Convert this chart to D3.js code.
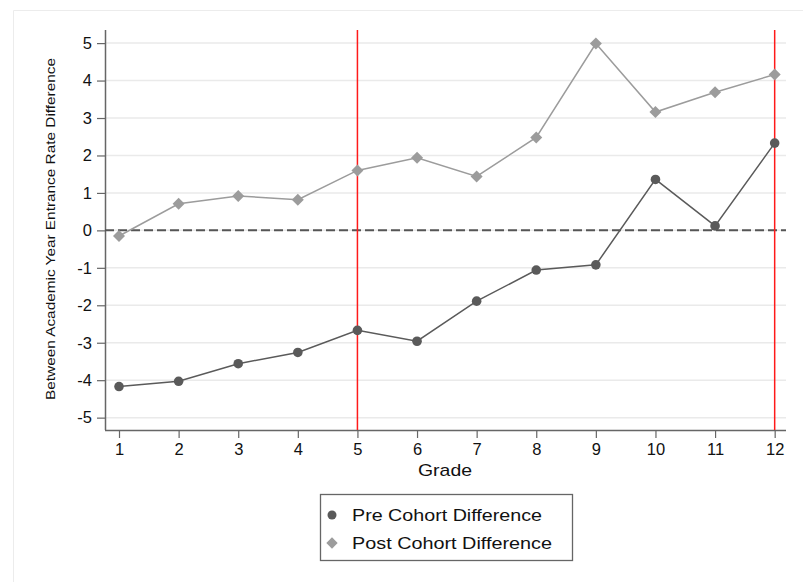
<!DOCTYPE html>
<html>
<head>
<meta charset="utf-8">
<script src="https://cdn.jsdelivr.net/npm/d3@7"></script>
<style>
  html, body { margin: 0; padding: 0; background: #fff; }
  svg { display: block; font-family: "Liberation Sans", Arial, Helvetica, sans-serif; }
</style>
</head>
<body>
<svg id="chart" width="803" height="582"></svg>
<script>
// Grades on the horizontal axis
const grades = [1, 2, 3, 4, 5, 6, 7, 8, 9, 10, 11, 12];
// Between-academic-year entrance rate differences
const preCohort  = [-4.17, -4.03, -3.56, -3.26, -2.67, -2.96, -1.89, -1.06, -0.92, 1.36, 0.12, 2.33];
const postCohort = [-0.15, 0.71, 0.92, 0.82, 1.60, 1.94, 1.44, 2.48, 4.99, 3.16, 3.69, 4.16];
// Axis ticks and reference lines
const yTicks = [-5, -4, -3, -2, -1, 0, 1, 2, 3, 4, 5];
const xTicks = grades;
const refGrades = [5, 12];
const seriesNames = ["Pre Cohort Difference", "Post Cohort Difference"];

const svg = d3.select("#chart");
const W = 803, H = 582;
const plot = { left: 105, right: 786, top: 30, bottom: 430 };

// Outer frame (left and top edges visible)
svg.append("path")
  .attr("d", `M13.5,${H} V10.5 H${W}`)
  .attr("fill", "none").attr("stroke", "#ececec").attr("stroke-width", 1);

const x = d3.scaleLinear().domain([0.765, 12.19]).range([plot.left, plot.right]);
const y = d3.scaleLinear().domain([-5.33, 5.35]).range([plot.bottom, plot.top]);

// Horizontal gridlines
svg.append("g").selectAll("line").data(yTicks).join("line")
  .attr("x1", plot.left).attr("x2", plot.right)
  .attr("y1", d => y(d)).attr("y2", d => y(d))
  .attr("stroke", "#eaeaea").attr("stroke-width", 1.5);

// Y axis
const yAxis = svg.append("g").attr("transform", `translate(${plot.left},0)`)
  .call(d3.axisLeft(y).tickValues(yTicks).tickSize(8).tickPadding(5).tickFormat(d3.format("d")));
yAxis.select(".domain").attr("d", `M0.5,${plot.top}V${plot.bottom}`).attr("stroke", "#666").attr("stroke-width", 1.5);
yAxis.selectAll(".tick line").attr("stroke", "#666").attr("stroke-width", 1.2);
yAxis.selectAll(".tick text").attr("font-size", 16.5).attr("fill", "#111")
  .text(d => d < 0 ? "-" + Math.abs(d) : d);

// X axis
const xAxis = svg.append("g").attr("transform", `translate(0,${plot.bottom})`)
  .call(d3.axisBottom(x).tickValues(xTicks).tickSize(8).tickPadding(5).tickFormat(d3.format("d")));
xAxis.select(".domain").attr("d", `M${plot.left},0.5H${plot.right}`).attr("stroke", "#666").attr("stroke-width", 1.5);
xAxis.selectAll(".tick line").attr("stroke", "#666").attr("stroke-width", 1.2);
xAxis.selectAll(".tick text").attr("font-size", 16.5).attr("fill", "#111");

// Axis titles
svg.append("text")
  .attr("transform", `translate(55,229) rotate(-90)`)
  .attr("text-anchor", "middle").attr("font-size", 13.5).attr("fill", "#111")
  .attr("textLength", 342).attr("lengthAdjust", "spacingAndGlyphs")
  .text("Between Academic Year Entrance Rate Difference");
svg.append("text")
  .attr("x", 445).attr("y", 476)
  .attr("text-anchor", "middle").attr("font-size", 17).attr("fill", "#111")
  .attr("textLength", 54).attr("lengthAdjust", "spacingAndGlyphs")
  .text("Grade");

// Zero reference line
svg.append("line")
  .attr("x1", plot.left).attr("x2", plot.right)
  .attr("y1", y(0)).attr("y2", y(0))
  .attr("stroke", "#555").attr("stroke-width", 2).attr("stroke-dasharray", "9,4");

// Vertical reference lines at selected grades
svg.append("g").selectAll("line").data(refGrades).join("line")
  .attr("x1", d => x(d)).attr("x2", d => x(d))
  .attr("y1", plot.top).attr("y2", plot.bottom)
  .attr("stroke", "#ff1a1a").attr("stroke-width", 1.5);

const line = d3.line().x((d, i) => x(grades[i])).y(d => y(d));
const preColor = "#5a5a5a", postColor = "#9c9c9c";

// Post cohort series
svg.append("path").datum(postCohort).attr("d", line)
  .attr("fill", "none").attr("stroke", postColor).attr("stroke-width", 1.5);
const diamond = d3.symbol().type(d3.symbolSquare).size(72);
svg.append("g").selectAll("path").data(postCohort).join("path")
  .attr("d", diamond)
  .attr("transform", (d, i) => `translate(${x(grades[i])},${y(d)}) rotate(45)`)
  .attr("fill", postColor);

// Pre cohort series
svg.append("path").datum(preCohort).attr("d", line)
  .attr("fill", "none").attr("stroke", preColor).attr("stroke-width", 1.5);
svg.append("g").selectAll("circle").data(preCohort).join("circle")
  .attr("cx", (d, i) => x(grades[i])).attr("cy", d => y(d)).attr("r", 4.8)
  .attr("fill", preColor);

// Legend
const legendWidths = [190, 200];
const leg = svg.append("g");
leg.append("rect").attr("x", 320.5).attr("y", 494.5).attr("width", 252).attr("height", 66)
  .attr("fill", "#fff").attr("stroke", "#666").attr("stroke-width", 1.3);
leg.append("circle").attr("cx", 332).attr("cy", 515).attr("r", 4.5).attr("fill", preColor);
leg.append("path").attr("d", d3.symbol().type(d3.symbolSquare).size(64))
  .attr("transform", "translate(332,543) rotate(45)").attr("fill", postColor);
leg.selectAll("text").data(seriesNames).join("text")
  .attr("x", 352).attr("y", (d, i) => 521 + i * 28)
  .attr("font-size", 17).attr("fill", "#111")
  .attr("textLength", (d, i) => legendWidths[i]).attr("lengthAdjust", "spacingAndGlyphs")
  .text(d => d);
</script>
</body>
</html>
